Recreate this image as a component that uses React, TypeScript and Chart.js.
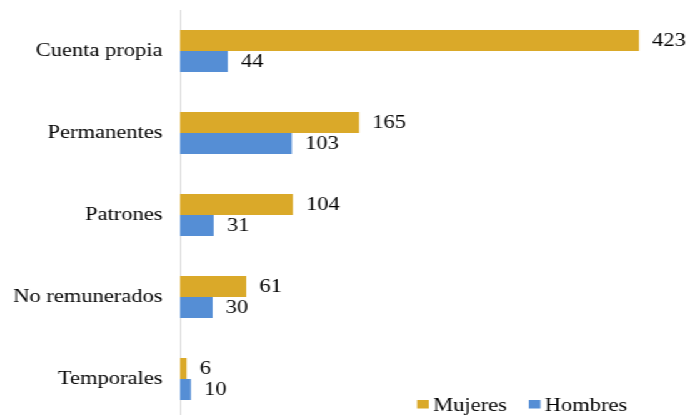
import React, { useEffect, useRef } from 'react';
import { Chart, registerables } from 'chart.js';

Chart.register(...registerables);

const categories = ['Cuenta propia', 'Permanentes', 'Patrones', 'No remunerados', 'Temporales'];
const mujeres = [423, 165, 104, 61, 6];
const hombres = [44, 103, 31, 30, 10];
const seriesNames = ['Mujeres', 'Hombres'];
const seriesColors = ['#DAA929', '#558ED5'];

const FONT_FAMILY = '"Liberation Serif", "Times New Roman", serif';
const STRETCH = 1.25;
const OUT_W = 690;
const H = 425;
const INNER_W = Math.round(OUT_W / STRETCH);

const valueLabels = {
  id: 'valueLabels',
  afterDatasetsDraw(chart: any) {
    const ctx = chart.ctx;
    ctx.save();
    ctx.font = `18px ${FONT_FAMILY}`;
    ctx.fillStyle = '#000';
    ctx.textAlign = 'left';
    ctx.textBaseline = 'middle';
    chart.data.datasets.forEach((ds: any, i: number) => {
      const meta = chart.getDatasetMeta(i);
      meta.data.forEach((bar: any, j: number) => {
        ctx.fillText(String(ds.data[j]), bar.x + 10.5, bar.y + 1);
      });
    });
    ctx.restore();
  },
};

const customLegend = {
  id: 'customLegend',
  afterDraw(chart: any) {
    const ctx = chart.ctx;
    ctx.save();
    ctx.font = `18px ${FONT_FAMILY}`;
    ctx.textAlign = 'left';
    ctx.textBaseline = 'alphabetic';
    let x = 333.6;
    chart.data.datasets.forEach((ds: any) => {
      ctx.fillStyle = ds.backgroundColor;
      ctx.fillRect(x, 400, 9.4, 8.5);
      ctx.fillStyle = '#000';
      ctx.fillText(ds.label, x + 12.8, 411);
      x += 12.8 + ctx.measureText(ds.label).width + 17.6;
    });
    ctx.restore();
  },
};

export default function App() {
  const ref = useRef<HTMLCanvasElement>(null);

  useEffect(() => {
    if (!ref.current) return;
    const chart = new Chart(ref.current, {
      type: 'bar',
      data: {
        labels: categories,
        datasets: [
          {
            label: seriesNames[0],
            data: mujeres,
            backgroundColor: seriesColors[0],
            categoryPercentage: 0.512,
            barPercentage: 1,
          },
          {
            label: seriesNames[1],
            data: hombres,
            backgroundColor: seriesColors[1],
            categoryPercentage: 0.512,
            barPercentage: 1,
          },
        ],
      },
      options: {
        indexAxis: 'y',
        animation: false,
        responsive: false,
        maintainAspectRatio: false,
        devicePixelRatio: 1,
        layout: { padding: { top: 10, bottom: 5, left: 0, right: 0 } },
        scales: {
          x: { display: false, min: 0, max: 470 },
          y: {
            grid: { display: false, drawTicks: false },
            border: { display: true, color: '#D9D9D9', width: 1 },
            ticks: { color: '#000', font: { size: 18, family: FONT_FAMILY }, padding: 14 },
            afterFit(scale: any) {
              scale.width = 144;
              scale.paddingTop = 0;
              scale.paddingBottom = 0;
            },
          },
        },
        plugins: {
          legend: { display: false },
          tooltip: { enabled: false },
        },
      },
      plugins: [valueLabels, customLegend],
    } as any);
    return () => chart.destroy();
  }, []);

  return (
    <div
      style={{
        position: 'fixed',
        left: 0,
        top: 0,
        width: INNER_W,
        height: H,
        transform: `scaleX(${OUT_W / INNER_W})`,
        transformOrigin: '0 0',
        background: '#fff',
      }}
    >
      <canvas
        ref={ref}
        width={INNER_W}
        height={H}
        style={{ width: INNER_W, height: H, display: 'block' }}
      />
    </div>
  );
}
